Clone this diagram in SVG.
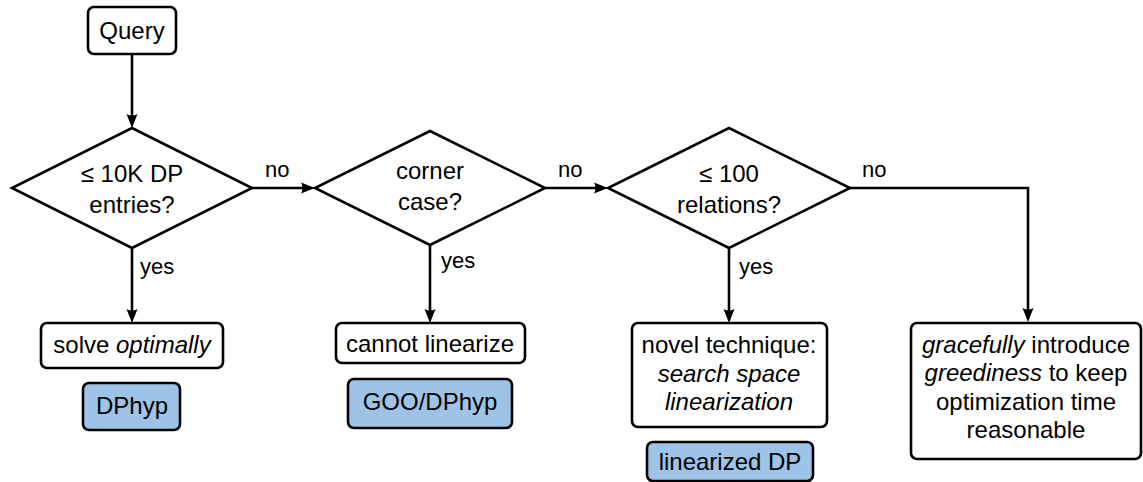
<svg xmlns="http://www.w3.org/2000/svg" width="1143" height="482" viewBox="0 0 1143 482">
<style>
  .box{fill:#ffffff;stroke:#000;stroke-width:2.6}
  .blue{fill:#9dc3e6;stroke:#000;stroke-width:2.6}
  .dia{fill:#ffffff;stroke:#000;stroke-width:2.6;stroke-linejoin:miter}
  text{font-family:"Liberation Sans",Arial,sans-serif;font-size:24px;fill:#000;text-anchor:middle}
  .lbl{font-size:22px;text-anchor:start}
  .it{font-style:italic}
  .edge{fill:none;stroke:#000;stroke-width:2.6}
</style>
<defs>
  <marker id="arr" markerUnits="userSpaceOnUse" markerWidth="16" markerHeight="12" refX="7" refY="6" orient="auto">
    <path d="M0,0.5 L14,6 L0,11.5 Q3,6 0,0.5 Z" fill="#000"/>
  </marker>
</defs>
<g id="connectors">
  <line class="edge" x1="132" y1="54" x2="132" y2="121" marker-end="url(#arr)"/>
  <line class="edge" x1="252" y1="188" x2="308" y2="188" marker-end="url(#arr)"/>
  <line class="edge" x1="545" y1="188" x2="601" y2="188" marker-end="url(#arr)"/>
  <polyline class="edge" points="850,188 1028,188 1028,315" marker-end="url(#arr)"/>
  <line class="edge" x1="132" y1="248" x2="132" y2="316" marker-end="url(#arr)"/>
  <line class="edge" x1="430" y1="245" x2="430" y2="316" marker-end="url(#arr)"/>
  <line class="edge" x1="729" y1="248" x2="729" y2="316" marker-end="url(#arr)"/>
  <text class="lbl" x="265" y="177">no</text>
  <text class="lbl" x="558" y="177">no</text>
  <text class="lbl" x="862" y="177">no</text>
  <text class="lbl" x="140" y="274">yes</text>
  <text class="lbl" x="441" y="268">yes</text>
  <text class="lbl" x="739" y="274">yes</text>
</g>
<g id="query">
  <rect class="box" x="88" y="7" width="88" height="47" rx="6"/>
  <text x="132" y="39">Query</text>
</g>
<g id="decision1">
  <polygon class="dia" points="132,128 252,188 132,248 12,188"/>
  <text x="132" y="182">≤ 10K DP</text>
  <text x="132" y="213">entries?</text>
</g>
<g id="decision2">
  <polygon class="dia" points="430,131 545,188 430,245 315,188"/>
  <text x="430" y="179">corner</text>
  <text x="430" y="210">case?</text>
</g>
<g id="decision3">
  <polygon class="dia" points="729,128 850,188 729,248 608,188"/>
  <text x="729" y="182">≤ 100</text>
  <text x="729" y="213">relations?</text>
</g>
<g id="solve">
  <rect class="box" x="41" y="323" width="182" height="45" rx="6"/>
  <text x="132" y="353">solve <tspan class="it">optimally</tspan></text>
</g>
<g id="dphyp">
  <rect class="blue" x="83" y="383" width="97" height="47" rx="6"/>
  <text x="132" y="414">DPhyp</text>
</g>
<g id="cannot">
  <rect class="box" x="336" y="323" width="189" height="40" rx="6"/>
  <text x="430" y="352">cannot linearize</text>
</g>
<g id="goo">
  <rect class="blue" x="348" y="379" width="164" height="49" rx="6"/>
  <text x="430" y="410">GOO/DPhyp</text>
</g>
<g id="novel">
  <rect class="box" x="632" y="323" width="195" height="104" rx="6"/>
  <text x="729" y="353">novel technique:</text>
  <text class="it" x="729" y="382">search space</text>
  <text class="it" x="729" y="410">linearization</text>
</g>
<g id="lindp">
  <rect class="blue" x="647" y="442" width="166" height="39" rx="6"/>
  <text x="730" y="470">linearized DP</text>
</g>
<g id="graceful">
  <rect class="box" x="911" y="323" width="230" height="136" rx="6"/>
  <text x="1026" y="353"><tspan class="it">gracefully</tspan> introduce</text>
  <text x="1026" y="381"><tspan class="it">greediness</tspan> to keep</text>
  <text x="1026" y="410">optimization time</text>
  <text x="1026" y="438">reasonable</text>
</g>
</svg>
